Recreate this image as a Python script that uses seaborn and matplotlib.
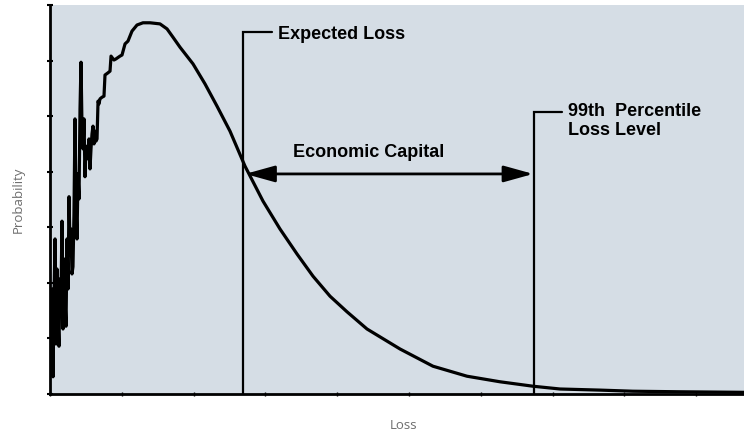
import numpy as np
import matplotlib
matplotlib.use("Agg")
import matplotlib.pyplot as plt
import seaborn as sns
from matplotlib.patches import ArrowStyle

# loss distribution (x in loss units, y in probability units)
loss = [0.000, 0.014, 0.028, 0.042, 0.056, 0.070, 0.084, 0.097, 0.111, 0.125,
        0.139, 0.153, 0.167, 0.181, 0.195, 0.209, 0.223, 0.237, 0.251, 0.265,
        0.279, 0.292, 0.306, 0.320, 0.334, 0.348, 0.362, 0.376, 0.390, 0.404,
        0.418, 0.432, 0.446, 0.460, 0.474, 0.487, 0.501, 0.515, 0.529, 0.543,
        0.557, 0.571, 0.585, 0.599, 0.613, 0.627, 0.641, 0.655, 0.669, 0.682,
        0.696, 0.724, 0.752, 0.766, 0.808, 0.836, 0.850, 0.891, 0.919, 0.975,
        1.003, 1.045, 1.086, 1.142, 1.212, 1.295, 1.393, 1.532, 1.630, 1.713,
        1.811, 1.992, 2.159, 2.326, 2.507, 2.716, 2.967, 3.203, 3.440, 3.663,
        3.900, 4.136, 4.415, 4.875, 5.334, 5.808, 6.267, 6.727, 7.103, 7.660,
        8.120, 8.774, 9.666]
prob = [1.17, 0.41, 1.89, 0.31, 1.71, 2.79, 0.90, 2.25, 1.35, 0.86,
        2.07, 1.71, 3.11, 1.17, 2.43, 1.71, 1.22, 2.79, 1.89, 3.55,
        2.61, 2.97, 2.16, 2.29, 3.24, 4.95, 3.42, 2.79, 3.96, 3.51,
        5.13, 5.97, 4.77, 4.41, 4.95, 3.91, 4.41, 4.46, 4.23, 4.59,
        4.05, 4.41, 4.68, 4.82, 4.50, 4.73, 4.55, 4.59, 5.27, 5.22,
        5.31, 5.34, 5.36, 5.74, 5.78, 5.81, 6.08, 6.01, 6.03, 6.08,
        6.10, 6.30, 6.35, 6.53, 6.64, 6.68, 6.68, 6.66, 6.57, 6.42,
        6.24, 5.94, 5.58, 5.18, 4.73, 4.10, 3.47, 2.97, 2.52, 2.12,
        1.76, 1.48, 1.17, 0.81, 0.50, 0.32, 0.22, 0.14, 0.09, 0.07,
        0.05, 0.04, 0.03]

expected_loss = 2.69
pct99_loss = 6.74

sns.set_style("ticks")
bold = dict(family=["Liberation Sans", "DejaVu Sans"], weight="bold", size=13, color="black")
grey = dict(family=["Open Sans", "DejaVu Sans"], size=9.5, color="#6e6e6e")

fig = plt.figure(figsize=(7.44, 4.35), dpi=100)
ax = fig.add_axes([50 / 744, 40 / 435, 694 / 744, 389 / 435])
ax.set_facecolor("#d5dde5")

sns.lineplot(x=loss, y=prob, ax=ax, color="black", linewidth=2.3,
             estimator=None, sort=False)

# marker lines with little label hooks
ax.plot([expected_loss, expected_loss, expected_loss + 0.40], [0, 6.51, 6.51],
        color="black", linewidth=1.6, solid_joinstyle="miter")
ax.plot([pct99_loss, pct99_loss, pct99_loss + 0.39], [0, 5.07, 5.07],
        color="black", linewidth=1.6, solid_joinstyle="miter")

ax.annotate("", xy=(expected_loss + 0.03, 3.96), xytext=(pct99_loss - 0.01, 3.96),
            arrowprops=dict(arrowstyle=ArrowStyle("<|-|>", head_length=1.8, head_width=0.5),
                            mutation_scale=10, color="black", lw=2.0,
                            shrinkA=0, shrinkB=0))

ax.text(3.18, 6.48, "Expected Loss", ha="left", va="center", **bold)
ax.text(3.38, 4.37, "Economic Capital", ha="left", va="center", **bold)
ax.text(7.21, 4.93, "99th  Percentile\nLoss Level", ha="left", va="center",
        linespacing=1.15, **bold)

ax.set_xlim(0, 9.666)
ax.set_ylim(0, 7)
ax.set_xticks(range(10))
ax.set_yticks(range(8))
ax.set_xticklabels([])
ax.set_yticklabels([])
ax.tick_params(axis="y", direction="inout", length=5, width=1.5, color="black")
ax.tick_params(axis="x", direction="inout", length=3, width=1, color="black")

for side in ["top", "right"]:
    ax.spines[side].set_visible(False)
for side in ["left", "bottom"]:
    ax.spines[side].set_linewidth(2)
    ax.spines[side].set_color("black")

ax.set_xlabel("Loss", **grey)
ax.set_ylabel("Probability", **grey)
ax.xaxis.set_label_coords(0.509, -0.062)
ax.yaxis.set_label_coords(-0.036, 0.501)

fig.savefig("out.png", dpi=100)
